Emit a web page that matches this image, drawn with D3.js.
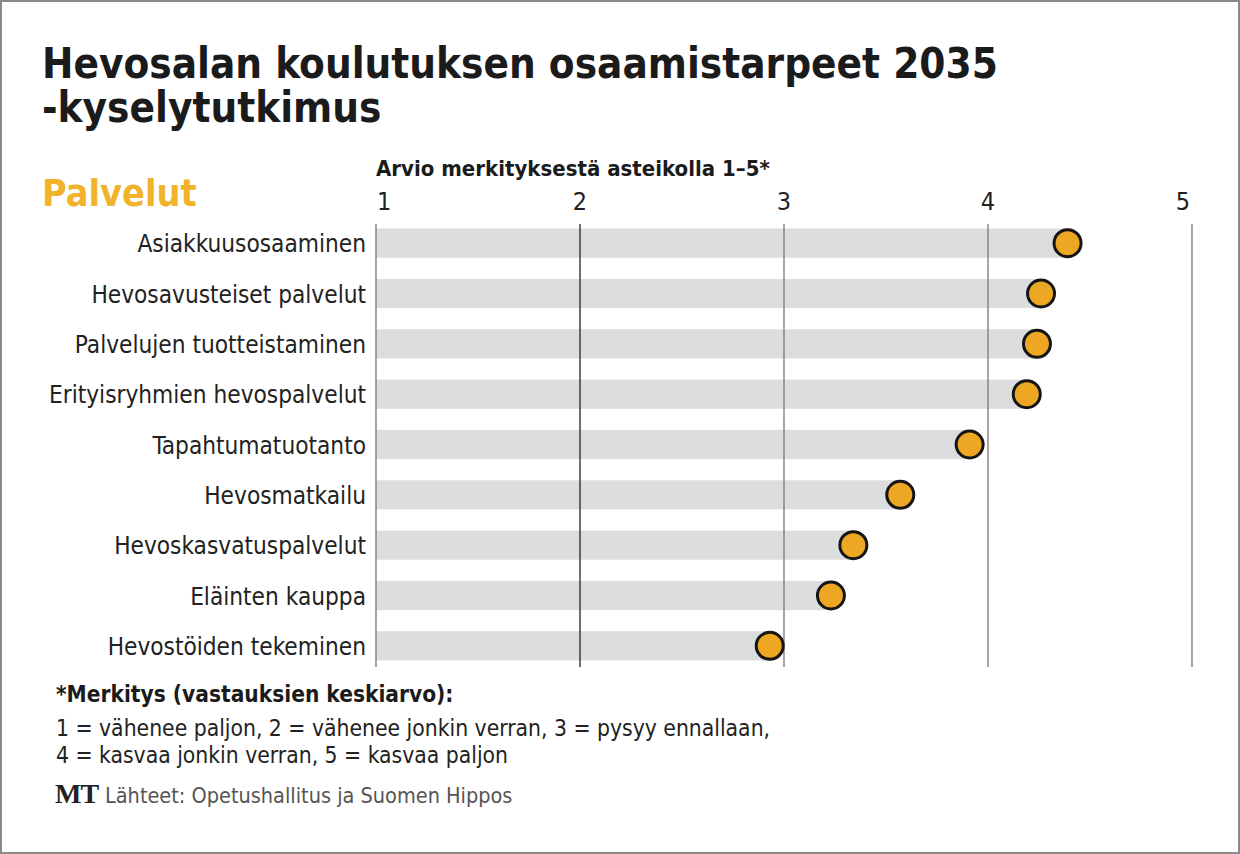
<!DOCTYPE html>
<html><head><meta charset="utf-8">
<script src="https://cdn.jsdelivr.net/npm/d3@7"></script>
<style>html,body{margin:0;padding:0;background:#fff;}svg{display:block;}</style>
</head><body>
<div id="chart"></div>
<script>
const categories = ["Asiakkuusosaaminen","Hevosavusteiset palvelut","Palvelujen tuotteistaminen","Erityisryhmien hevospalvelut","Tapahtumatuotanto","Hevosmatkailu","Hevoskasvatuspalvelut","Eläinten kauppa","Hevostöiden tekeminen"];
const values = [4.39, 4.26, 4.24, 4.19, 3.91, 3.57, 3.34, 3.23, 2.93];
const ticks = [1, 2, 3, 4, 5];
const titleLines = ["Hevosalan koulutuksen osaamistarpeet 2035", "-kyselytutkimus"];
const subtitle = "Palvelut";
const axisTitle = "Arvio merkityksestä asteikolla 1–5*";
const noteTitle = "*Merkitys (vastauksien keskiarvo):";
const noteLines = ["1 = vähenee paljon, 2 = vähenee jonkin verran, 3 = pysyy ennallaan,", "4 = kasvaa jonkin verran, 5 = kasvaa paljon"];
const source = "Lähteet: Opetushallitus ja Suomen Hippos";

const W = 1240, H = 854;
const narrow = "'DejaVu Sans Condensed', 'Liberation Sans Narrow', sans-serif";
const svg = d3.select("#chart").append("svg").attr("width", W).attr("height", H);
svg.append("rect").attr("x",1).attr("y",1).attr("width",W-2).attr("height",H-2).attr("fill","#fff").attr("stroke","#8a8a8a").attr("stroke-width",2);

const x = d3.scaleLinear().domain([1,5]).range([376,1192]);
const y = d3.scaleBand().domain(categories).range([218,671]).paddingInner(0.42).paddingOuter(0.21);

// title
svg.append("g").selectAll("text").data(titleLines).join("text")
  .attr("x",42).attr("y",(d,i)=>78+i*44)
  .attr("font-family",narrow).attr("font-weight","bold").attr("font-size",41.8)
  .attr("fill","#1b1b1b").text(d=>d);

svg.append("text").attr("x",42).attr("y",206).attr("font-family",narrow).attr("font-weight","bold")
  .attr("font-size",37.5).attr("fill","#f0b32a").text(subtitle);

svg.append("text").attr("x",376).attr("y",176).attr("font-family",narrow).attr("font-weight","bold")
  .attr("font-size",22).attr("fill","#1b1b1b").text(axisTitle);

// bars
svg.append("g").selectAll("rect").data(categories).join("rect")
  .attr("x",x(1)).attr("y",d=>y(d)).attr("height",y.bandwidth())
  .attr("width",(d,i)=>x(values[i])-x(1)).attr("fill","#dcdddf");

// gridlines
svg.append("g").selectAll("line").data(ticks).join("line")
  .attr("x1",d=>x(d)).attr("x2",d=>x(d)).attr("y1",224).attr("y2",667)
  .attr("stroke",d=>d===2?"#222":"#777").attr("stroke-width",1.3);

// tick labels
svg.append("g").selectAll("text").data(ticks).join("text")
  .attr("x",(d,i)=> i===0 ? x(d)+1 : i===ticks.length-1 ? x(d)-2 : x(d))
  .attr("y",210)
  .attr("text-anchor",(d,i)=> i===0 ? "start" : i===ticks.length-1 ? "end" : "middle")
  .attr("font-family",narrow).attr("font-size",25).attr("fill","#222").text(d=>d);

// category labels
svg.append("g").selectAll("text").data(categories).join("text")
  .attr("x",366).attr("y",d=>y(d)+y.bandwidth()/2+9).attr("text-anchor","end")
  .attr("font-family",narrow).attr("font-size",24.2).attr("fill","#222").text(d=>d);

// dots
svg.append("g").selectAll("circle").data(categories).join("circle")
  .attr("cx",(d,i)=>x(values[i])).attr("cy",d=>y(d)+y.bandwidth()/2).attr("r",13.5)
  .attr("fill","#eea723").attr("stroke","#151515").attr("stroke-width",3);

// notes
svg.append("text").attr("x",56).attr("y",702).attr("font-family",narrow).attr("font-weight","bold")
  .attr("font-size",22.5).attr("fill","#1b1b1b").text(noteTitle);
svg.append("g").selectAll("text").data(noteLines).join("text")
  .attr("x",56).attr("y",(d,i)=>736+i*27).attr("font-family",narrow)
  .attr("font-size",22.7).attr("fill","#222").text(d=>d);

svg.append("text").attr("x",55).attr("y",803).attr("font-family","'Liberation Serif', serif").attr("font-weight","bold")
  .attr("font-size",28).attr("fill","#222").attr("letter-spacing",-1).text("MT");
svg.append("text").attr("x",105).attr("y",803).attr("font-family",narrow)
  .attr("font-size",21.5).attr("fill","#555").text(source);
</script>
</body></html>
